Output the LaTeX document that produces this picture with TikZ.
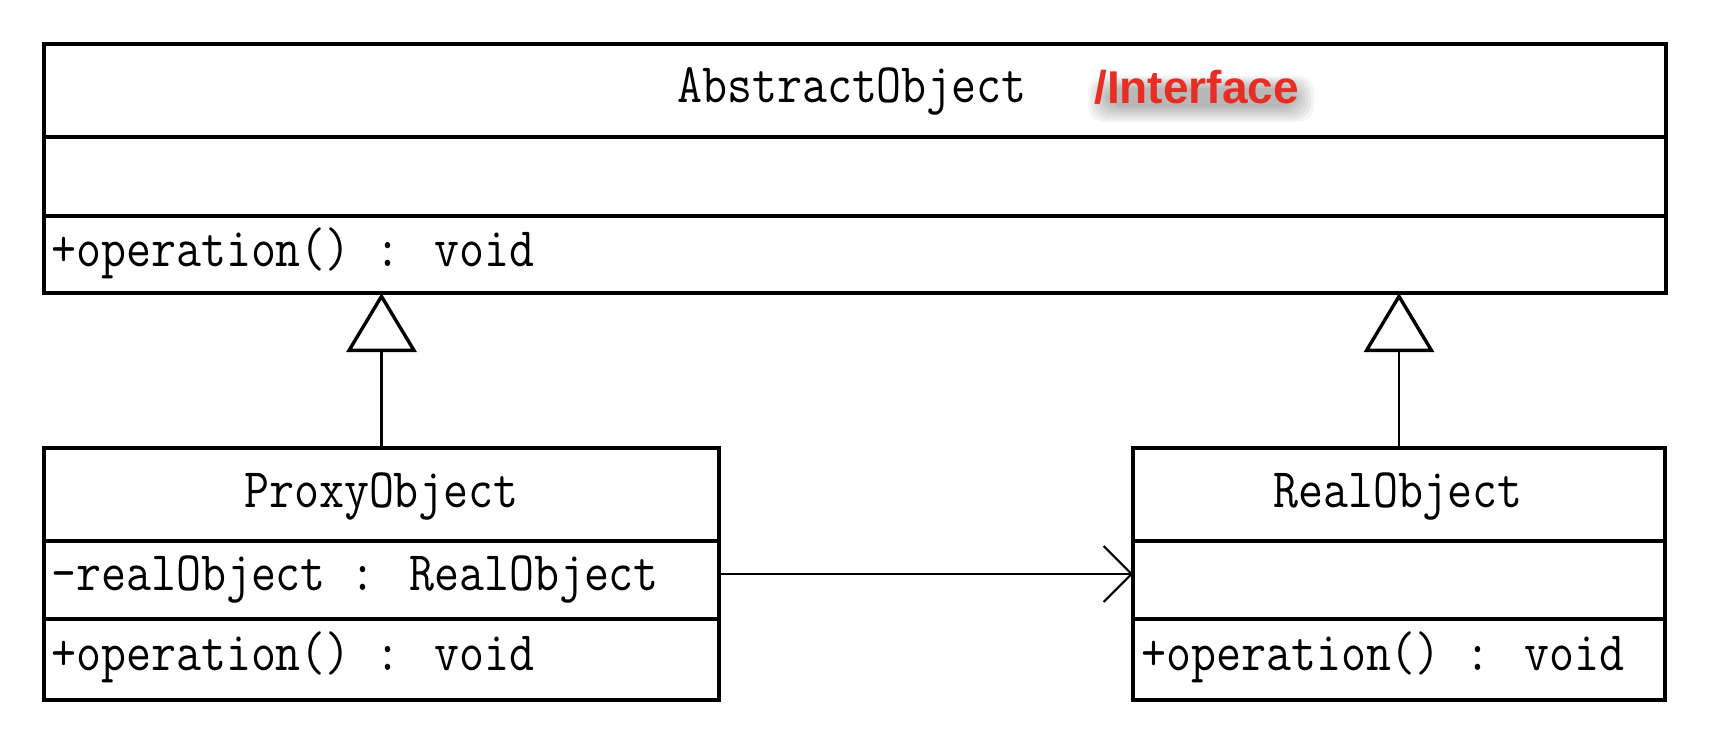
\documentclass[tikz,border=0pt]{standalone}
\usepackage{fontspec}
\newfontfamily\ifacefont{Liberation Sans}
\usetikzlibrary{arrows.meta}
\definecolor{ifred}{RGB}{232,46,36}
\newcommand\umltext[1]{\scalebox{1}[1.15]{\ttfamily\fontsize{48.5}{48.5}\selectfont #1}}
\begin{document}
\begin{tikzpicture}[x=1pt,y=-1pt]
\tikzset{
  classbox/.style={draw, line width=3.6pt, rectangle, inner sep=0pt, outer sep=0pt, fill=white},
  divider/.style={line width=3.6pt},
  title/.style={anchor=base, inner sep=0pt},
  member/.style={anchor=base west, inner sep=0pt},
  inherit/.style={line width=2.4pt, -{Triangle[open, length=59pt, width=70pt, line width=3.4pt]}},
  assoc/.style={line width=2.4pt, -{Straight Barb[length=28pt, width=56pt, line width=2pt]}},
  shadowlayer/.style={fill=black, opacity=0.045, rounded corners=16pt}
}
\fill[white] (0,0) rectangle (1716,740);
\useasboundingbox (0,0) rectangle (1716,740);

% AbstractObject
\node[classbox, minimum width=1622pt, minimum height=249pt] (abs) at (855,168.5) {};
\draw[divider] (abs.west |- 0,137) coordinate (absd1w) -- (abs.east |- 0,137) coordinate (absd1e);
\draw[divider] (abs.west |- 0,216) coordinate (absd2w) -- (abs.east |- 0,216) coordinate (absd2e);
\node[title] (absname) at (852,102) {\umltext{AbstractObject}};
% blurred shadow behind /Interface
\foreach \k in {0,...,6}
  \fill[shadowlayer] (1088+3*\k,76+2*\k) rectangle (1314-3*\k,122-2.5*\k);
\node[anchor=base west, inner sep=0pt, text=ifred] (iface) at (1094,103) {\ifacefont\bfseries\fontsize{46}{46}\selectfont /Interface};
\node[member] (absop) at (51,266) {\umltext{+operation() : void}};

% ProxyObject
\node[classbox, minimum width=675pt, minimum height=252pt] (proxy) at (381.5,574) {};
\draw[divider] (proxy.west |- 0,541) coordinate (pd1w) -- (proxy.east |- 0,541) coordinate (pd1e);
\draw[divider] (proxy.west |- 0,619) coordinate (pd2w) -- (proxy.east |- 0,619) coordinate (pd2e);
\node[title] (proxyname) at (381.5,507) {\umltext{ProxyObject}};
\node[member] (proxyattr) at (51,590) {\umltext{-realObject : RealObject}};
\node[member] (proxyop) at (51,670) {\umltext{+operation() : void}};

% RealObject
\node[classbox, minimum width=532pt, minimum height=252pt] (real) at (1399,574) {};
\draw[divider] (real.west |- 0,541) coordinate (rd1w) -- (real.east |- 0,541) coordinate (rd1e);
\draw[divider] (real.west |- 0,619) coordinate (rd2w) -- (real.east |- 0,619) coordinate (rd2e);
\node[title] (realname) at (1398,507) {\umltext{RealObject}};
\node[member] (realop) at (1141,670) {\umltext{+operation() : void}};

% connectors
\draw[inherit] (proxy.north) -- (proxy.north |- abs.south);
\draw[inherit] (real.north) -- (real.north |- abs.south);
\draw[assoc] (proxy.east) -- (real.west);
\end{tikzpicture}
\end{document}
